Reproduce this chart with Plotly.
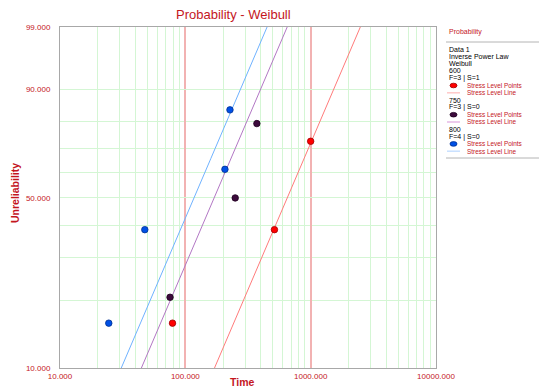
import numpy as np
import plotly.graph_objects as go

# ---- data ----
stress_levels = ["600", "750", "800"]
counts = ["F=3 | S=1", "F=3 | S=0", "F=4 | S=0"]

time_600 = [79.0, 514.0, 1000.0]
unrel_600 = [15.9, 38.6, 72.7]
time_750 = [75.5, 250.0, 372.0]
unrel_750 = [20.6, 50.0, 79.4]
time_800 = [24.5, 47.5, 207.0, 227.0]
unrel_800 = [15.9, 38.6, 61.4, 84.1]

beta = 1.41
eta_values = [843.0, 220.0, 152.0]

x_ticks = [10, 100, 1000, 10000]
x_tick_text = ["10.000", "100.000", "1000.000", "10000.000"]
x_minor = [m * d for d in (10, 100, 1000) for m in range(2, 10)]
y_ticks_pct = [10, 50, 90, 99]
y_tick_text = ["10.000", "50.000", "90.000", "99.000"]
y_minor_pct = [20, 30, 40, 60, 70, 80]

point_colors = ["#FF0000", "#3C0A3C", "#0050E6"]
point_edges = ["#A00000", "#200020", "#003090"]
line_colors = ["#FF7B7B", "#B277C4", "#6FB2FF"]
swatch_colors = ["#FFC8C8", "#E6B8E6", "#C8E0FF"]

RED = "#C4161E"
FONT = "Liberation Sans, Arial, sans-serif"


def wb(pct):
    f = np.asarray(pct, dtype=float) / 100.0
    return np.log(-np.log(1.0 - f))


W, H = 539, 387
L, R, T, B = 60, 103, 27, 19
PW, PH = W - L - R, H - T - B


def px(xp):
    return (xp - L) / PW


def py(yp):
    return (H - B - yp) / PH


fig = go.Figure()

times = [time_600, time_750, time_800]
unrels = [unrel_600, unrel_750, unrel_800]
tgrid = np.logspace(1, 4, 400)
for i in range(3):
    fig.add_trace(go.Scatter(
        x=tgrid, y=beta * np.log(tgrid / eta_values[i]), mode="lines",
        line=dict(color=line_colors[i], width=1), showlegend=False,
        hoverinfo="skip"))
for i in range(3):
    fig.add_trace(go.Scatter(
        x=times[i], y=wb(unrels[i]), mode="markers",
        marker=dict(color=point_colors[i], size=6.5,
                    line=dict(color=point_edges[i], width=0.8)),
        showlegend=False))

fig.update_xaxes(
    type="log", range=[1, 4], tickvals=x_ticks, ticktext=x_tick_text,
    tickfont=dict(color=RED, size=8, family=FONT), ticks="",
    automargin=False,
    showgrid=True, gridcolor="#F2B2B2", gridwidth=2,
    minor=dict(tickvals=x_minor, showgrid=True, gridcolor="#D4F6D4",
               gridwidth=1, ticks=""),
    showline=True, mirror=True, linecolor="#A8A8A8", linewidth=1,
    zeroline=False)
fig.update_yaxes(
    range=[float(wb(10)), float(wb(99))], tickvals=list(wb(y_ticks_pct)),
    ticktext=y_tick_text, tickfont=dict(color=RED, size=8, family=FONT),
    ticks="", ticklabelstandoff=7, automargin=False,
    showgrid=True, gridcolor="#D4F6D4", gridwidth=1,
    minor=dict(tickvals=list(wb(y_minor_pct)), showgrid=True,
               gridcolor="#D4F6D4", gridwidth=1, ticks=""),
    showline=True, mirror=True, linecolor="#A8A8A8", linewidth=1,
    zeroline=False)

ann = []


def add_text(txt, x, y, size, color, xanchor="center", angle=0):
    ann.append(dict(text=txt, x=px(x), y=py(y), xref="paper", yref="paper",
                    showarrow=False, xanchor=xanchor, yanchor="middle",
                    textangle=angle,
                    font=dict(color=color, size=size, family=FONT)))


add_text("Probability - Weibull", 233, 14, 13, RED)
add_text("<b>Time</b>", 242, 382, 10.5, RED)
add_text("<b>Unreliability</b>", 15, 193, 10.5, RED, angle=-90)

# legend panel
LX = 446.5
add_text("Probability", LX, 32, 7, RED, xanchor="left")
shapes = []
for ly in (42, 158):
    shapes.append(dict(type="line", xref="paper", yref="paper", x0=px(446),
                       x1=px(539), y0=py(ly), y1=py(ly),
                       line=dict(color="#B4B4B4", width=1)))

step = 7.3
row_y = 49.0
for r in ["Data 1", "Inverse Power Law", "Weibull"]:
    add_text(r, LX, row_y, 7, "#000000", xanchor="left")
    row_y += step
for i in range(3):
    add_text(stress_levels[i], LX, row_y, 7, "#000000", xanchor="left")
    row_y += step
    add_text(counts[i], LX, row_y, 7, "#000000", xanchor="left")
    row_y += step
    shapes.append(dict(type="circle", xref="paper", yref="paper",
                       x0=px(450), x1=px(457), y0=py(row_y - 2.3),
                       y1=py(row_y + 2.3), fillcolor=point_colors[i],
                       line=dict(color=point_edges[i], width=0.8)))
    add_text("Stress Level Points", 465, row_y, 6.4, RED, xanchor="left")
    row_y += step
    shapes.append(dict(type="line", xref="paper", yref="paper",
                       x0=px(447), x1=px(460), y0=py(row_y), y1=py(row_y),
                       line=dict(color=swatch_colors[i], width=1.5)))
    add_text("Stress Level Line", 465, row_y, 6.4, RED, xanchor="left")
    row_y += step

fig.update_layout(
    width=W, height=H, margin=dict(l=L, r=R, t=T, b=B),
    paper_bgcolor="white", plot_bgcolor="white",
    annotations=ann, shapes=shapes, showlegend=False,
    font=dict(family=FONT))

fig.write_html(
    "out.html",
    config={"displayModeBar": False},
    post_script="document.body.style.margin='0';"
                "document.body.style.overflow='hidden';")
